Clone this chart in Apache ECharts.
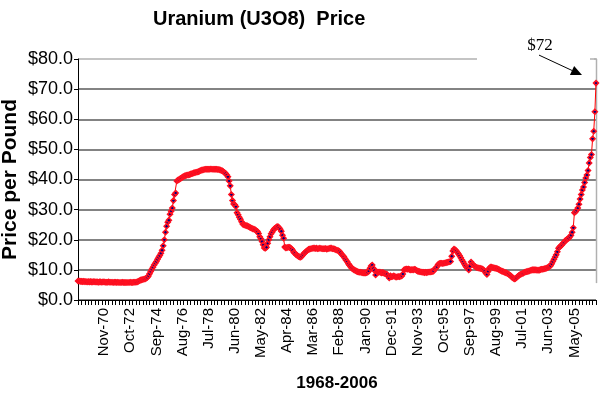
<!DOCTYPE html>
<html>
<head>
<meta charset="utf-8">
<script src="https://cdn.jsdelivr.net/npm/echarts@6/dist/echarts.min.js"></script>
<style>html,body{margin:0;padding:0;background:#fff}#c{width:600px;height:395px}</style>
</head>
<body>
<div id="c"></div>
<script>
// Monthly uranium (U3O8) spot price, $ per pound, Dec-1968 .. Dec-2006
const monthNames = ['Jan','Feb','Mar','Apr','May','Jun','Jul','Aug','Sep','Oct','Nov','Dec'];
const startYear = 1968, startMonth = 11; // Dec-68
const endYear = 2006, endMonth = 11;     // Dec-06

const prices1968to1972 = [
  6.3,
  6.3, 6.2, 6.2, 6.1, 6.2, 6.1, 6.1, 6.0, 6.1, 6.0, 6.1, 6.0,
  6.0, 6.1, 6.0, 6.0, 6.0, 5.9, 6.0, 6.0, 5.9, 6.0, 6.0, 5.9,
  5.9, 5.9, 6.0, 5.9, 5.9, 5.9, 5.8, 5.9, 5.9, 5.8, 5.9, 5.8,
  5.8, 5.8, 5.9, 5.8, 5.8, 5.8, 5.8, 5.8, 5.8, 5.9, 5.8, 5.8
];
const prices1973to1979 = [
  5.9, 5.9, 5.9, 6.0, 6.2, 6.4, 6.6, 6.7, 6.8, 6.9, 7.0, 7.2,
  7.5, 8.0, 8.7, 9.5, 10.2, 10.9, 11.6, 12.2, 12.8, 13.5, 14.2, 14.8,
  15.5, 16.5, 18.0, 20.0, 22.5, 24.5, 25.8, 26.5, 28.5, 29.5, 30.5, 33.0,
  35.0, 35.5, 39.5, 39.8, 40.0, 40.3, 40.5, 40.8, 41.0, 41.2, 41.3, 41.5,
  41.5, 41.6, 41.8, 41.9, 42.0, 42.2, 42.3, 42.4, 42.5, 42.6, 42.8, 43.0,
  43.1, 43.2, 43.3, 43.4, 43.4, 43.4, 43.4, 43.4, 43.5, 43.4, 43.4, 43.4,
  43.4, 43.4, 43.3, 43.3, 43.2, 43.0, 42.9, 42.6, 42.3, 42.0, 41.5, 40.9
];
const prices1980to1986 = [
  39.5, 37.9, 35.0, 33.0, 31.9, 31.6, 31.0, 29.0, 28.3, 27.5, 26.8, 26.0,
  25.2, 25.0, 24.8, 24.7, 24.6, 24.4, 24.2, 24.0, 23.8, 23.6, 23.5, 23.3,
  23.0, 22.7, 22.1, 21.0, 20.3, 19.4, 18.3, 17.3, 17.2, 17.5, 18.8, 20.0,
  21.0, 22.0, 22.6, 23.2, 23.7, 24.0, 24.3, 24.4, 24.0, 23.5, 22.8, 21.5,
  20.5, 17.6, 17.3, 17.4, 17.5, 17.5, 17.3, 17.0, 16.5, 15.8, 15.5, 15.0,
  14.8, 14.5, 14.3, 14.2, 14.5, 15.0, 15.5, 15.8, 16.2, 16.5, 16.8, 16.9,
  17.0, 17.1, 17.2, 17.2, 17.1, 17.2, 17.0, 17.1, 17.2, 17.1, 17.0, 17.0
];
const prices1987to1993 = [
  17.0, 17.1, 16.9, 17.0, 17.1, 17.2, 17.2, 17.0, 17.0, 16.9, 16.7, 16.5,
  16.4, 16.2, 15.8, 15.2, 14.8, 14.4, 13.8, 13.2, 12.7, 12.0, 11.5, 11.0,
  10.6, 10.3, 10.0, 9.8, 9.6, 9.4, 9.3, 9.2, 9.2, 9.1, 9.0, 9.0,
  9.0, 9.1, 9.2, 9.6, 10.5, 11.3, 11.6, 10.5, 9.8, 8.3, 9.4, 9.2,
  9.3, 9.2, 9.0, 9.1, 9.0, 8.8, 8.7, 8.5, 7.9, 7.3, 8.0, 7.7,
  7.8, 8.0, 7.8, 7.6, 7.7, 7.8, 7.7, 7.9, 8.0, 8.6, 10.0, 10.2,
  10.3, 10.2, 10.3, 10.1, 10.0, 10.1, 10.0, 10.2, 10.1, 9.8, 9.6, 9.5
];
const prices1994to2000 = [
  9.4, 9.3, 9.2, 9.2, 9.1, 9.2, 9.1, 9.2, 9.3, 9.3, 9.4, 9.5,
  9.6, 10.3, 10.6, 11.0, 11.8, 12.1, 12.2, 12.2, 12.1, 12.2, 12.3, 12.4,
  12.5, 12.6, 12.7, 12.8, 14.5, 16.3, 16.9, 16.7, 16.3, 15.8, 15.3, 14.7,
  14.0, 13.3, 12.7, 12.0, 11.4, 10.9, 10.5, 10.0, 11.2, 12.6, 12.0, 11.6,
  11.3, 11.0, 10.8, 10.7, 10.6, 10.5, 10.4, 10.3, 10.0, 9.6, 9.0, 8.5,
  9.5, 10.5, 10.9, 10.9, 10.8, 10.7, 10.6, 10.5, 10.4, 10.2, 10.0, 9.8,
  9.6, 9.5, 9.3, 9.1, 9.0, 8.8, 8.6, 8.3, 8.0, 7.6, 7.3, 7.0
];
const prices2001to2006 = [
  7.1, 7.4, 7.8, 8.1, 8.4, 8.6, 8.8, 8.9, 9.2, 9.3, 9.4, 9.5,
  9.6, 9.8, 9.9, 10.0, 10.0, 10.0, 10.0, 9.9, 9.9, 9.9, 10.1, 10.2,
  10.2, 10.3, 10.4, 10.5, 10.7, 10.9, 11.1, 11.4, 12.0, 12.8, 13.5, 14.3,
  15.0, 16.0, 17.2, 17.6, 18.0, 18.3, 18.8, 19.2, 19.7, 20.0, 20.3, 20.5,
  21.0, 21.5, 22.5, 24.0, 29.0, 29.3, 29.8, 30.5, 31.8, 33.5, 35.0, 36.5,
  37.5, 39.0, 40.5, 41.5, 43.0, 45.5, 47.3, 48.3, 53.5, 56.0, 62.5, 72.0
];
const yTicks = [0, 10, 20, 30, 40, 50, 60, 70, 80];
const annotationText = '$72';

const prices = [].concat(prices1968to1972, prices1973to1979, prices1980to1986,
                         prices1987to1993, prices1994to2000, prices2001to2006);
const categories = [];
for (let y = startYear, m = startMonth; y < endYear || (y === endYear && m <= endMonth); ) {
  categories.push(monthNames[m] + '-' + String(y % 100).padStart(2, '0'));
  m++; if (m > 11) { m = 0; y++; }
}

const FONT = '"Liberation Sans", Arial, sans-serif';
const chart = echarts.init(document.getElementById('c'), null, {renderer: 'canvas'});
const gridColors = yTicks.map((v, i) => i === yTicks.length - 1 ? '#b0b0b0' : '#5a5a5a');

chart.setOption({
  backgroundColor: '#ffffff',
  animation: false,
  title: {
    text: 'Uranium (U3O8)  Price',
    left: 148, top: 4,
    textStyle: {fontFamily: FONT, fontSize: 20, fontWeight: 'bold', color: '#000'}
  },
  grid: {left: 78, right: 4, top: 59, bottom: 95, containLabel: false, outerBoundsMode: 'none'},
  xAxis: {
    type: 'category',
    data: categories,
    boundaryGap: false,
    name: '1968-2006',
    nameLocation: 'middle',
    nameGap: 75,
    nameMoveOverlap: false,
    nameTextStyle: {fontFamily: FONT, fontSize: 17, fontWeight: 'bold', color: '#000'},
    axisLine: {lineStyle: {color: '#000', width: 1}},
    axisTick: {show: true, interval: 2, length: 5, lineStyle: {color: '#000', width: 1}},
    axisLabel: {
      interval: (index) => index > 0 && index % 23 === 0,
      rotate: 90, margin: 8,
      fontFamily: FONT, fontSize: 15, color: '#000'
    },
    splitLine: {show: false}
  },
  yAxis: {
    type: 'value',
    min: 0, max: 80, interval: 10,
    name: 'Price per Pound',
    nameLocation: 'middle',
    nameRotate: 90,
    nameGap: 57,
    nameMoveOverlap: false,
    nameTextStyle: {fontFamily: FONT, fontSize: 21, fontWeight: 'bold', color: '#000'},
    axisLine: {show: true, lineStyle: {color: '#000', width: 1}},
    axisTick: {show: true, length: 4, lineStyle: {color: '#000'}},
    axisLabel: {
      formatter: (v) => '$' + v.toFixed(1),
      margin: 5, fontFamily: FONT, fontSize: 18, color: '#000'
    },
    splitLine: {show: true, lineStyle: {color: gridColors, width: 1.5}}
  },
  series: [{
    type: 'line',
    data: prices,
    symbol: 'diamond',
    symbolSize: 5,
    showAllSymbol: true,
    lineStyle: {color: '#ff0000', width: 1},
    itemStyle: {color: '#000080', borderColor: '#ff1020', borderWidth: 1.5},
    z: 5
  }]
});

// Annotation: "$72" with an arrow pointing at the last point
const lastIdx = prices.length - 1;
const pt = chart.convertToPixel({gridIndex: 0}, [lastIdx, prices[lastIdx]]);
const topPt = chart.convertToPixel({gridIndex: 0}, [0, 80]);
const tip = [pt[0] - 14, pt[1] - 8];
const start = [pt[0] - 57, pt[1] - 28];
const ang = Math.atan2(tip[1] - start[1], tip[0] - start[0]);
const hl = 11, hw = 5;
const base = [tip[0] - hl * Math.cos(ang), tip[1] - hl * Math.sin(ang)];
const head = [
  tip,
  [base[0] + hw * Math.sin(ang), base[1] - hw * Math.cos(ang)],
  [base[0] - hw * Math.sin(ang), base[1] + hw * Math.cos(ang)]
];
chart.setOption({
  graphic: [
    {type: 'rect', shape: {x: start[0] - 62, y: topPt[1] - 3, width: pt[0] - start[0] + 56, height: 5},
     style: {fill: '#fff'}, z: 10},
    {type: 'line', shape: {x1: pt[0] - 2, y1: topPt[1], x2: pt[0] + 1, y2: topPt[1]},
     style: {stroke: '#b0b0b0', lineWidth: 1.5}, z: 11},
    {type: 'line', shape: {x1: pt[0] + 0.5, y1: topPt[1], x2: pt[0] + 0.5, y2: pt[1] + 200},
     style: {stroke: '#b0b0b0', lineWidth: 1.5}, z: 4},
    {type: 'line', shape: {x1: start[0], y1: start[1], x2: base[0], y2: base[1]},
     style: {stroke: '#000', lineWidth: 1}, z: 11},
    {type: 'polygon', shape: {points: head}, style: {fill: '#000'}, z: 11},
    {type: 'text', x: start[0] + 1, y: start[1] - 1,
     style: {text: annotationText, fontFamily: '"Liberation Serif", "Times New Roman", serif',
             fontSize: 17, fill: '#000', align: 'center', verticalAlign: 'bottom'}, z: 12}
  ]
});
</script>
</body>
</html>
